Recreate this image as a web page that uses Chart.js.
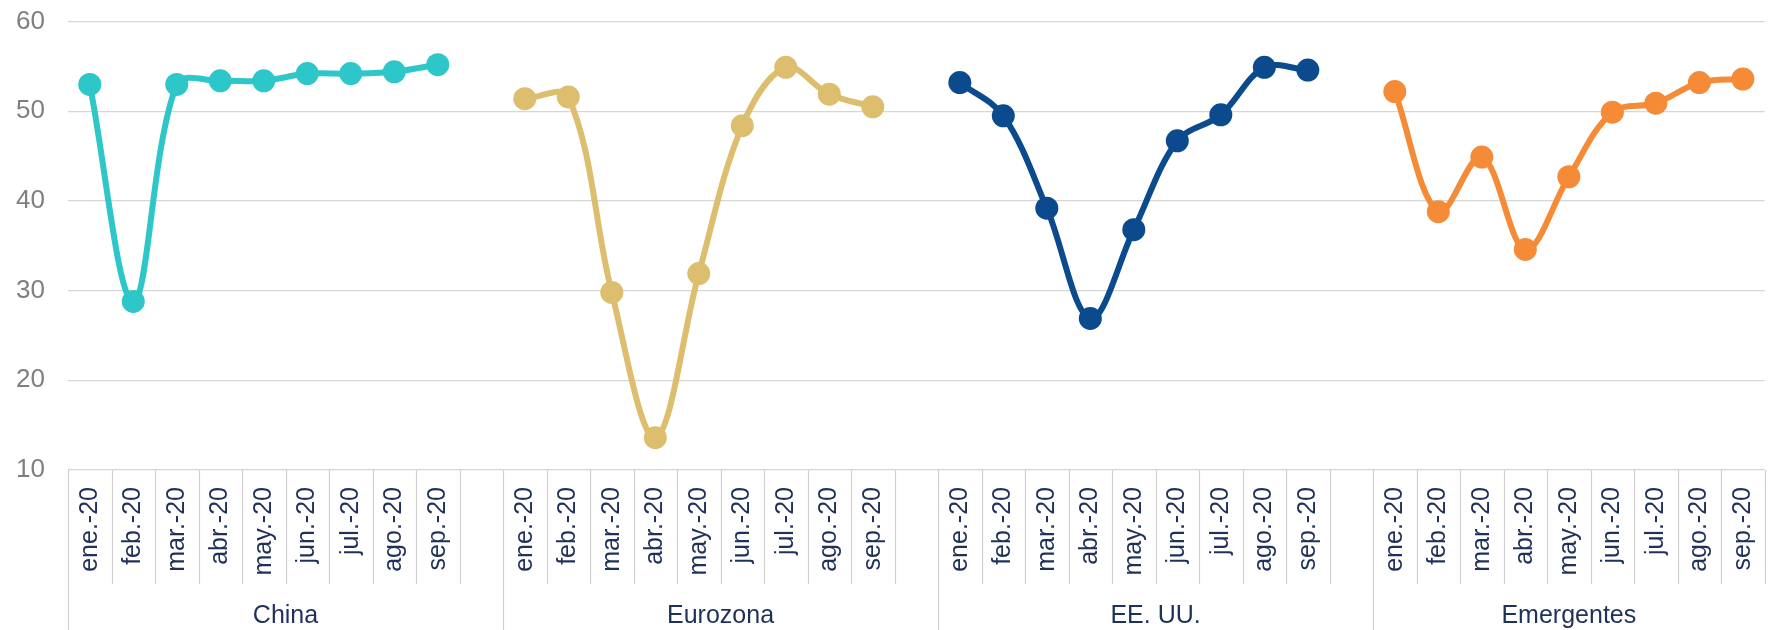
<!DOCTYPE html>
<html lang="es">
<head>
<meta charset="utf-8">
<title>PMI compuesto 2020</title>
<script src="https://cdn.jsdelivr.net/npm/chart.js@4.4.1/dist/chart.umd.min.js"></script>
<style>
    html, body { margin: 0; padding: 0; background: #fff; overflow: hidden; }
    #pmi-chart { display: block; }
</style>
</head>
<body>
<canvas id="pmi-chart" width="1790" height="630"></canvas>
<script>
// Meses que se repiten en cada bloque
const meses = ['ene.-20', 'feb.-20', 'mar.-20', 'abr.-20', 'may.-20', 'jun.-20', 'jul.-20', 'ago.-20', 'sep.-20'];
const grupos = ['China', 'Eurozona', 'EE. UU.', 'Emergentes'];

// Valores
const china = [53.0, 28.8, 53.0, 53.4, 53.4, 54.2, 54.2, 54.4, 55.2];
const eurozona = [51.4, 51.6, 29.8, 13.6, 31.9, 48.4, 54.9, 51.9, 50.5];
const eeuu = [53.2, 49.5, 39.2, 26.9, 36.8, 46.7, 49.6, 54.9, 54.6];
const emergentes = [52.2, 38.8, 44.9, 34.6, 42.7, 49.9, 50.9, 53.2, 53.6];

// Eje Y
const ejeYMin = 10;
const ejeYMax = 60;
const ejeYPaso = 10;

const series = [china, eurozona, eeuu, emergentes];
const colores = ['#2DC7C9', '#DCBE6E', '#0B4A8C', '#F58A37'];
const colorTexto = '#1F3158';
const fuente = '"Liberation Sans", Arial, sans-serif';

// Etiquetas del eje X: cada bloque de meses seguido de un hueco (menos el último)
const etiquetas = [];
const inicios = [];
grupos.forEach((g, i) => {
    inicios.push(etiquetas.length);
    etiquetas.push(...meses);
    if (i < grupos.length - 1) etiquetas.push('');
});
const finales = inicios.map((ini, i) => (i < grupos.length - 1 ? inicios[i + 1] : etiquetas.length));

// Un dataset por bloque, con null fuera de su tramo
const datasets = series.map((valores, i) => {
    const data = etiquetas.map(() => null);
    valores.forEach((v, j) => { data[inicios[i] + j] = v; });
    return {
        label: grupos[i],
        data,
        borderColor: colores[i],
        backgroundColor: colores[i],
        borderWidth: 6,
        pointRadius: 11.5,
        pointBorderWidth: 0,
        pointHoverRadius: 11.5,
        tension: 0.35,
        spanGaps: false
    };
});

// Separadores bajo el eje y nombres de los bloques
const separadores = {
    id: 'separadores',
    afterDraw(chart) {
        const x = chart.scales.x;
        const { ctx, chartArea } = chart;
        const medio = (x.getPixelForValue(1) - x.getPixelForValue(0)) / 2;
        const base = chartArea.bottom;
        ctx.save();
        ctx.strokeStyle = '#d0d0d0';
        ctx.lineWidth = 1.2;
        for (let i = 0; i <= etiquetas.length; i++) {
            const px = Math.round(x.getPixelForValue(i) - medio) + 0.5;
            const largo = inicios.includes(i);
            ctx.beginPath();
            ctx.moveTo(px, base);
            ctx.lineTo(px, largo ? chart.height : base + 114);
            ctx.stroke();
        }
        ctx.fillStyle = colorTexto;
        ctx.font = '25px ' + fuente;
        ctx.textAlign = 'center';
        ctx.textBaseline = 'middle';
        grupos.forEach((g, i) => {
            const a = x.getPixelForValue(inicios[i]) - medio;
            const b = x.getPixelForValue(finales[i]) - medio;
            ctx.fillText(g, (a + b) / 2, base + 146);
        });
        ctx.restore();
    }
};

const ctx = document.getElementById('pmi-chart').getContext('2d');
const pmiChart = new Chart(ctx, {
    type: 'line',
    data: { labels: etiquetas, datasets },
    options: {
        responsive: false,
        animation: false,
        devicePixelRatio: 1,
        layout: { padding: { top: 0, right: 10, left: 0, bottom: 0 } },
        plugins: {
            legend: { display: false },
            tooltip: { enabled: false }
        },
        scales: {
            x: {
                offset: true,
                grid: { display: false, drawTicks: false },
                border: { display: false },
                ticks: {
                    autoSkip: false,
                    minRotation: 90,
                    maxRotation: 90,
                    padding: 17,
                    color: colorTexto,
                    font: { family: fuente, size: 25 }
                },
                afterFit: (scale) => { scale.height = 160; }
            },
            y: {
                min: ejeYMin,
                max: ejeYMax,
                grid: {
                    color: '#d6d6d6',
                    lineWidth: 1.2,
                    drawTicks: true,
                    tickLength: 17,
                    tickWidth: 0,
                    tickColor: 'rgba(0,0,0,0)'
                },
                border: { display: false },
                ticks: {
                    stepSize: ejeYPaso,
                    padding: 6,
                    color: '#7f7f7f',
                    font: { family: fuente, size: 26 }
                },
                afterFit: (scale) => { scale.width = 68; }
            }
        }
    },
    plugins: [separadores]
});
</script>
</body>
</html>
